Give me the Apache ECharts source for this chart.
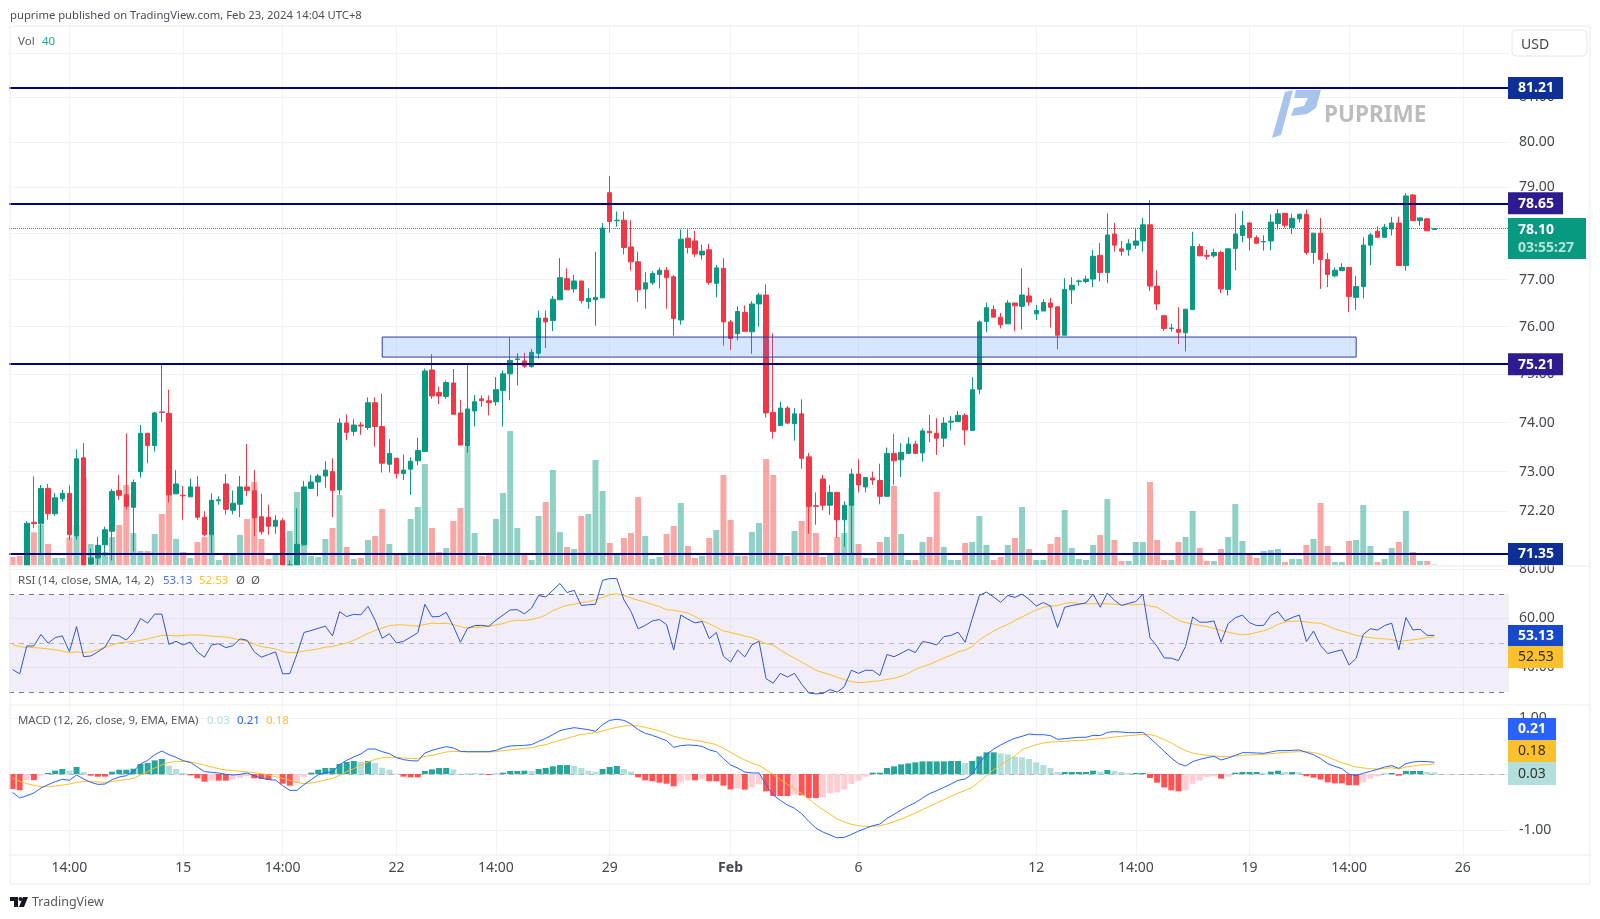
<!DOCTYPE html>
<html>
<head>
<meta charset="utf-8">
<style>html,body{margin:0;padding:0;background:#fff}#main{width:1600px;height:919px}</style>
<script src="https://cdn.jsdelivr.net/npm/echarts@6/dist/echarts.min.js"></script>
</head>
<body>
<div id="main"></div>
<script>
// four hour bars
const openPx = [70.98,70.92,
70.90,71.98,71.95,72.66,72.15,72.45,72.56,71.71,73.28,71.15,
71.27,71.53,71.80,72.62,72.53,72.28,73.00,73.78,73.53,74.22,
74.19,72.55,72.52,72.49,72.69,72.08,71.73,72.41,72.75,72.22,
72.34,72.69,72.61,72.09,72.08,71.90,72.01,71.05,71.10,71.53,
72.66,72.79,72.91,73.00,72.63,73.99,73.82,73.95,73.90,74.41,
73.92,73.15,73.27,72.96,73.05,73.22,73.41,75.09,74.62,74.54,
74.82,74.20,73.52,74.24,74.49,74.45,74.43,74.66,75.01,75.31,
75.28,75.16,75.44,76.18,76.13,76.57,77.02,76.80,76.97,76.53,
76.57,76.61,78.88,78.27,78.28,77.70,77.38,76.80,76.93,77.11,
77.20,77.06,76.14,77.89,77.83,77.53,77.64,76.92,77.24,76.10,
75.85,76.30,75.89,76.48,76.67,74.21,73.94,74.30,73.98,74.18,
73.30,72.31,72.85,72.32,72.58,72.03,72.32,72.95,72.69,72.87,
72.82,72.50,73.37,73.24,73.37,73.56,73.38,73.82,73.78,73.68,
74.01,74.02,74.15,73.84,74.69,76.11,76.36,76.20,76.06,76.50,
76.43,76.65,76.27,76.33,76.50,76.42,75.82,76.78,76.96,76.96,
77.01,77.52,77.15,77.98,77.66,77.64,77.74,77.83,78.18,76.86,
76.23,75.96,75.94,75.87,76.36,77.71,77.52,77.51,77.58,76.79,
77.67,77.95,78.22,77.90,77.81,77.83,78.21,78.43,78.12,78.31,
78.41,77.58,78.00,77.43,77.08,77.19,77.26,76.62,76.85,77.74,
78.04,77.91,78.09,78.22,77.30,78.83,78.27,78.31,78.08];
const closePx = [70.92,70.87,
71.96,71.95,72.66,72.15,72.47,72.56,71.73,73.26,70.95,71.27,
71.52,71.83,72.60,72.52,72.30,72.78,73.78,73.53,74.20,74.21,
72.53,72.75,72.51,72.69,72.08,71.73,72.42,72.43,72.24,72.36,
72.69,72.62,72.07,71.79,71.90,72.02,71.05,71.10,71.54,72.69,
72.79,72.91,73.03,72.62,73.99,73.80,73.95,73.93,74.41,73.92,
73.17,73.37,72.96,73.03,73.21,73.43,75.07,74.55,74.55,74.83,
74.17,73.54,74.28,74.43,74.45,74.41,74.68,75.01,75.29,75.32,
75.17,75.46,76.18,76.10,76.58,77.04,76.78,76.97,76.55,76.60,
76.62,78.11,78.25,78.28,77.69,77.38,76.78,76.93,77.13,77.20,
77.04,76.17,77.87,77.69,77.55,77.61,76.94,77.25,76.10,75.75,
76.32,75.90,76.48,76.67,74.20,73.82,74.30,73.99,74.18,73.27,
72.30,72.30,72.32,72.58,72.03,72.32,72.95,72.73,72.88,72.83,
72.50,73.37,73.22,73.39,73.56,73.37,73.83,73.79,73.68,73.99,
74.03,74.15,73.85,74.68,76.10,76.40,76.20,76.04,76.50,76.44,
76.67,76.52,76.34,76.51,76.41,75.82,76.79,76.88,76.97,77.01,
77.50,77.15,77.96,77.74,77.61,77.77,77.83,78.18,76.86,76.48,
75.96,75.97,75.88,76.37,77.71,77.51,77.50,77.58,76.80,77.66,
77.98,78.16,77.90,77.78,77.82,78.24,78.42,78.17,78.32,78.41,
77.58,78.00,77.43,77.11,77.20,77.26,76.64,76.85,77.74,77.96,
77.91,78.13,78.22,77.30,78.81,78.27,78.33,78.05,78.10];
const highPx = [71.02,70.95,
72.00,72.90,72.73,72.75,72.57,72.63,72.72,73.45,73.58,71.46,
71.69,71.89,72.65,72.93,73.78,72.84,73.95,73.79,74.22,75.23,
74.68,73.03,72.71,72.86,72.91,72.20,72.56,72.50,72.95,72.62,
72.91,73.56,73.03,72.55,72.33,72.12,72.06,71.22,72.26,72.81,
72.93,72.95,73.21,73.27,74.09,74.17,74.07,74.01,74.52,74.52,
74.60,73.66,73.28,73.35,73.29,73.69,75.12,75.42,74.74,74.87,
75.11,74.47,75.21,74.57,74.56,74.56,74.94,75.08,75.78,75.44,
75.45,75.53,76.34,76.34,76.65,77.46,77.24,77.10,76.97,76.81,
77.60,78.22,79.25,78.47,78.47,78.28,77.60,77.16,77.18,77.26,
77.27,77.10,78.08,78.08,78.05,77.75,77.77,77.31,77.46,76.14,
76.43,76.45,76.54,76.72,76.90,75.86,74.43,74.34,74.30,74.48,
73.38,72.58,72.93,72.73,72.58,72.40,73.06,73.25,72.89,73.00,
73.16,73.49,73.77,73.58,73.70,73.63,73.88,74.16,74.09,74.11,
74.14,74.24,74.19,74.94,76.13,76.51,76.45,76.29,76.56,76.50,
77.24,76.83,76.46,76.58,76.61,76.42,77.03,77.05,77.00,77.08,
77.64,77.79,78.43,78.22,77.83,77.87,78.11,78.33,78.72,77.20,
76.25,76.06,76.41,76.37,78.03,77.77,77.64,77.66,77.62,77.67,
78.42,78.48,78.24,77.95,77.95,78.41,78.52,78.44,78.42,78.42,
78.51,78.00,78.33,77.57,77.26,77.35,77.26,77.08,77.91,78.00,
78.14,78.20,78.35,78.36,78.87,78.85,78.34,78.33,78.11];
const lowPx = [70.88,70.80,
70.85,71.86,71.36,72.03,72.11,72.39,71.63,71.63,70.90,71.00,
71.00,71.31,71.22,72.43,72.24,71.40,72.88,73.17,73.41,74.01,
72.38,72.55,72.03,72.49,72.03,71.70,71.36,72.33,72.13,72.14,
72.08,72.50,71.70,71.73,71.73,71.75,71.00,71.00,71.05,71.52,
72.65,72.50,72.67,72.08,72.53,73.64,73.73,73.75,73.85,73.51,
72.98,72.98,72.86,72.83,72.53,73.13,73.41,74.49,74.38,74.49,
74.16,73.54,73.38,73.92,74.33,74.15,74.35,73.92,74.46,74.77,
75.13,75.14,75.33,75.55,75.91,76.57,76.78,76.72,76.49,76.38,
76.02,76.61,78.01,78.14,77.54,77.19,76.52,76.38,76.89,76.81,
76.38,75.81,76.04,77.56,77.48,77.43,76.89,76.62,75.60,75.51,
75.71,75.90,75.43,76.00,74.10,73.67,73.93,73.97,73.63,73.06,
71.75,71.93,72.22,72.12,71.67,71.49,71.35,72.58,72.58,72.73,
72.34,72.50,72.73,72.89,73.37,73.37,73.20,73.60,73.34,73.50,
73.84,74.02,73.54,73.84,74.59,75.88,76.20,75.96,76.06,75.90,
75.94,76.44,76.14,76.33,75.98,75.52,75.82,76.48,76.87,76.92,
76.84,76.96,76.92,77.60,77.51,77.51,77.66,77.60,76.75,76.35,
75.91,75.89,75.63,75.48,76.36,77.50,77.43,77.47,76.71,76.66,
77.20,77.80,77.63,77.78,77.62,77.63,78.08,78.12,77.98,78.23,
77.53,77.34,76.80,76.84,77.05,77.19,76.31,76.35,76.60,77.31,
77.91,77.91,77.95,77.30,77.19,78.27,78.16,78.05,78.08];
const volume = [800,900,
2670,3270,4000,2100,700,700,2770,4000,8730,2100,
1200,1300,2800,4000,8000,3200,1400,1400,3100,5100,
7700,2600,1300,700,2300,2800,3000,500,1000,1000,
3000,4600,8300,2600,600,1000,2800,3400,7300,2800,
900,800,2600,3700,7000,1800,600,700,2500,2900,
5600,2100,1000,1000,4600,5800,10100,3700,1300,1700,
4400,5700,11800,3200,900,1000,4600,7200,13400,3700,
1000,500,4900,6300,9500,3300,1800,1600,4900,5100,
10500,7400,2200,1000,2700,3200,6800,2900,600,800,
3100,3900,6200,1900,700,900,2700,3500,9000,4500,
900,900,3300,4200,10600,9000,1000,900,3400,4400,
10200,3200,800,1000,2800,3200,7700,2100,700,700,
2300,2800,7900,3100,500,500,2300,2800,7300,1800,
500,500,2200,2300,4900,2000,500,800,2000,2700,
5800,1600,500,500,2100,2800,5500,1700,600,500,
2000,3000,6600,2500,400,400,2300,2300,8300,2500,
500,500,2300,2800,5400,1700,400,400,1600,2800,
6100,2400,1000,700,1400,1500,1600,300,600,600,
2000,2600,6200,1900,300,300,2400,2500,6000,1900,
300,600,1700,2300,5400,1300,400,400,40];
const rsi = [39.2,37.4,
48.8,48.8,53.5,49.9,52.2,52.9,46.5,56.7,44.4,44.7,
46.4,48.3,53.3,52.9,51.2,54.3,60,58.1,61.8,61.8,
49.4,50.7,49.2,50.4,46.4,44.2,49.2,49.7,48.1,48.9,
51.7,51.1,46.4,44.2,45.3,46.4,37.4,37.5,45.4,54.3,
55.1,56,56.9,52.9,62.8,60.8,61.7,61.5,65,59.3,
51.9,53.8,50,50.7,52.4,54.2,65.8,60.7,60.8,62.5,
56.9,50.3,56,57.1,57.2,56.8,59.3,61.4,63.5,63.6,
61.9,64.2,69.4,68.8,71.5,74.3,70.6,71.5,65.3,65.6,
65.8,75.6,76.3,76.3,67.6,62.8,55.8,57.2,59,59.6,
57.5,47.1,61.4,59.7,58.2,58.8,51.8,54.3,44.6,42.2,
47.1,44.3,49.2,50.7,35.4,33.6,37.6,36.1,37.6,33.2,
29.6,29.2,29.4,31,29.9,32.2,38.9,37.6,38.9,38.8,
36.7,45.3,44.4,45.8,47.4,46.1,50.6,50.1,49.2,52.6,
53.1,54.4,50.3,60,69.4,70.8,68.8,66.6,69.4,68.6,
70,67.8,65.1,66.5,65.1,56.3,64.6,65.3,65.8,66.4,
70,64.6,70.4,67.4,65.3,66.2,66.9,70,52.1,48.6,
43.9,43.8,42.8,48.6,60.6,58.5,58.5,59,50.3,57.9,
60.3,61.4,58.3,57.1,57.2,61.3,62.8,59,60.4,61.4,
50.6,54.9,48.9,45.7,46.5,47.2,41,43.8,53.5,55.8,
55.3,57.1,58.1,47.2,60.4,55.3,55.6,53.1,53.13];
const rsiMa = [49.3,48.5,
48.2,48.1,47.9,47.6,47.2,46.7,46,46.4,46.1,46.4,
47.2,48.3,49.2,50.1,50.3,50.6,51.1,51.7,52.4,53.1,
53.1,52.8,53.1,53.3,53.3,53.1,52.8,52.6,52.4,51.9,
51.3,50.8,49.6,48.5,48.1,47.6,46.5,46,46.1,46.8,
47.1,47.6,48.3,48.6,49.3,50,51.1,52.4,53.9,55.1,
56.1,57.1,57.4,57.4,57.1,56.9,57.6,58.1,57.9,58.1,
57.5,56.7,56.1,56.4,56.5,56.8,57.4,57.9,58.9,59.3,
59.2,59.6,60.3,61.4,63.2,64.4,65.4,65.8,66.5,66.9,
67.6,68.6,69.7,70.1,69.4,68.3,67.5,66.7,65.7,64.9,
63.5,63.4,62.8,62.2,60.8,59.2,57.8,56.4,54.9,54.3,
53.6,52.8,52.2,51,49.7,49.2,47.1,45.4,43.8,42.2,
40.6,38.9,37.9,37.1,36,35.1,34.2,33.8,34,34.3,
34.6,35.1,35.6,36.5,37.6,39.2,40.3,41.3,42.6,43.9,
45,46.4,47.1,48.6,51.3,53.1,54.9,56.3,57.6,59.2,
60.6,62.1,63.5,64.6,65,65.3,66.2,66.5,66.1,66,
66,66,66,65.8,65.6,65.6,65.7,65.8,65.1,64.6,
62.8,61,59.3,58.3,57.8,57.2,56.7,56,55.1,54.4,
53.8,53.3,53.6,54.3,55,56.1,57.6,58.6,58.9,59,
58.6,58.2,58.1,56.9,55.8,54.9,54,53.1,52.6,52.2,
51.8,51.7,51.4,50.6,51,51.3,51.7,52.2,52.53];
const macd = [-0.327,-0.429,
-0.387,-0.339,-0.25,-0.19,-0.137,-0.095,-0.113,-0.018,-0.089,-0.149,
-0.185,-0.179,-0.101,-0.054,-0.03,0.048,0.179,0.244,0.345,0.411,
0.345,0.298,0.238,0.208,0.125,0.042,0.03,0.018,-0.006,-0.018,
-0.006,0.018,-0.03,-0.071,-0.101,-0.107,-0.208,-0.292,-0.292,-0.19,
-0.101,-0.012,0.024,0.036,0.167,0.244,0.304,0.357,0.446,0.446,
0.399,0.363,0.292,0.256,0.238,0.232,0.375,0.423,0.458,0.488,
0.464,0.405,0.399,0.399,0.399,0.399,0.423,0.47,0.5,0.506,
0.512,0.524,0.583,0.637,0.702,0.774,0.804,0.827,0.81,0.792,
0.762,0.881,0.958,0.976,0.958,0.893,0.792,0.726,0.69,0.643,
0.595,0.476,0.506,0.518,0.512,0.494,0.429,0.399,0.274,0.161,
0.107,0.036,0.018,0.018,-0.19,-0.375,-0.47,-0.554,-0.613,-0.708,
-0.845,-0.964,-1.036,-1.09,-1.14,-1.13,-1.08,-1.02,-0.97,-0.923,
-0.893,-0.792,-0.72,-0.643,-0.571,-0.512,-0.429,-0.351,-0.298,-0.238,
-0.179,-0.113,-0.089,0,0.196,0.345,0.446,0.518,0.583,0.637,
0.673,0.714,0.702,0.702,0.685,0.619,0.631,0.643,0.655,0.655,
0.69,0.685,0.744,0.756,0.75,0.738,0.738,0.744,0.643,0.524,
0.405,0.286,0.185,0.143,0.22,0.262,0.292,0.315,0.25,0.286,
0.333,0.381,0.381,0.375,0.369,0.393,0.417,0.417,0.423,0.429,
0.387,0.345,0.274,0.185,0.137,0.095,-0.006,-0.03,0.012,0.048,
0.083,0.125,0.149,0.101,0.185,0.214,0.226,0.22,0.21];
const signal = [-0.071,-0.131,
-0.173,-0.202,-0.226,-0.226,-0.214,-0.196,-0.179,-0.149,-0.137,-0.131,
-0.143,-0.149,-0.137,-0.113,-0.101,-0.077,-0.018,0.042,0.107,0.161,
0.208,0.22,0.226,0.214,0.19,0.155,0.125,0.095,0.071,0.06,
0.048,0.036,0.024,0.006,-0.018,-0.048,-0.077,-0.113,-0.149,-0.173,
-0.161,-0.137,-0.107,-0.077,-0.024,0.042,0.095,0.161,0.214,0.262,
0.292,0.298,0.298,0.286,0.28,0.274,0.315,0.333,0.363,0.393,
0.405,0.399,0.393,0.393,0.393,0.393,0.399,0.417,0.429,0.44,
0.458,0.47,0.5,0.524,0.565,0.601,0.637,0.673,0.708,0.72,
0.738,0.768,0.804,0.833,0.857,0.869,0.857,0.833,0.804,0.768,
0.726,0.673,0.643,0.619,0.601,0.577,0.554,0.524,0.458,0.387,
0.315,0.25,0.196,0.149,0.077,-0.006,-0.101,-0.185,-0.268,-0.351,
-0.446,-0.548,-0.637,-0.72,-0.804,-0.857,-0.899,-0.923,-0.935,-0.935,
-0.923,-0.893,-0.851,-0.804,-0.75,-0.696,-0.637,-0.577,-0.518,-0.458,
-0.399,-0.345,-0.292,-0.238,-0.137,-0.03,0.077,0.161,0.244,0.327,
0.435,0.482,0.524,0.554,0.571,0.577,0.583,0.595,0.601,0.607,
0.619,0.631,0.643,0.661,0.673,0.685,0.696,0.708,0.702,0.673,
0.613,0.554,0.482,0.417,0.375,0.351,0.333,0.321,0.31,0.31,
0.321,0.333,0.339,0.345,0.351,0.363,0.375,0.387,0.393,0.399,
0.399,0.381,0.351,0.304,0.25,0.202,0.161,0.125,0.107,0.095,
0.089,0.101,0.113,0.089,0.125,0.143,0.161,0.167,0.18];
const hist = [-0.27,-0.29,
-0.11,-0.11,-0.03,0.02,0.06,0.09,0.06,0.125,0.036,-0.03,
-0.048,-0.048,0.04,0.077,0.077,0.095,0.18,0.196,0.244,0.268,
0.149,0.09,0.018,-0.024,-0.077,-0.137,-0.119,-0.119,-0.119,-0.095,
-0.07,-0.04,-0.077,-0.09,-0.107,-0.03,-0.173,-0.208,-0.16,-0.06,
0.024,0.077,0.107,0.107,0.18,0.214,0.232,0.214,0.232,0.196,
0.113,0.077,0.006,-0.048,-0.06,-0.06,0.054,0.083,0.107,0.107,
0.083,0.006,0.006,0.006,0.006,-0.018,0.006,0.024,0.054,0.054,
0.06,0.054,0.09,0.107,0.137,0.16,0.16,0.143,0.107,0.06,
0.042,0.09,0.125,0.143,0.09,0.042,-0.06,-0.113,-0.131,-0.155,
-0.173,-0.22,-0.149,-0.113,-0.113,-0.095,-0.131,-0.131,-0.208,-0.274,
-0.262,-0.28,-0.238,-0.185,-0.31,-0.393,-0.393,-0.393,-0.369,-0.381,
-0.43,-0.43,-0.417,-0.345,-0.327,-0.28,-0.179,-0.119,-0.048,0.024,
0.024,0.107,0.137,0.173,0.19,0.208,0.226,0.226,0.226,0.226,
0.232,0.232,0.196,0.232,0.315,0.387,0.387,0.369,0.351,0.31,
0.298,0.268,0.208,0.16,0.107,0.036,0.036,0.036,0.036,0.036,
0.06,0.042,0.071,0.054,0.036,0.018,0.018,0.018,-0.07,-0.155,
-0.24,-0.292,-0.31,-0.292,-0.173,-0.119,-0.054,-0.042,-0.083,-0.048,
0.024,0.036,0.036,0.036,0.018,0.042,0.06,0.036,0.036,0.03,
-0.042,-0.065,-0.1,-0.149,-0.167,-0.167,-0.202,-0.202,-0.149,-0.083,
-0.042,0.006,0.018,-0.03,0.054,0.054,0.054,0.036,0.03];

const timeLabels = {8:'14:00',24:'15',38:'14:00',54:'22',68:'14:00',84:'29',101:'Feb',119:'6',144:'12',158:'14:00',174:'19',188:'14:00',204:'26'};
const barCount = 211;
const categories = Array.from({length: barCount}, (_, i) => timeLabels[i] || '');
const priceGrid = [82, 72.2];
const priceTicks = [81, 80, 79, 78, 77, 76, 75, 74, 73];
const levels = [81.21, 78.65, 75.21, 71.35];
const lastPrice = 78.10;
const zoneBounds = [75.78, 75.36];
const zoneBars = [52, 189];
const priceMin = 71.13, priceMax = 82.62;

const UP = '#089981', DOWN = '#F23645', GRID = '#f0f3fa', NAVY = '#000080', TXT = '#44474f';
const FONT = '"Noto Sans", sans-serif';

// candlesticks are not clipped by echarts, so hold them at the pane floor
const floor = v => Math.max(v, priceMin);
const candles = openPx.map((o, i) => highPx[i] < priceMin ? '-' : [floor(o), floor(closePx[i]), floor(lowPx[i]), highPx[i]]);
const histColor = (v, i) => {
    const prev = i > 0 ? hist[i - 1] : 0;
    if (v >= 0) return v >= prev ? '#26a69a' : '#b2dfdb';
    return v <= prev ? '#ff5252' : '#ffcdd2';
};

function xAxisFor(gridIndex, showLabel) {
    return {
        type: 'category', gridIndex: gridIndex, data: categories, boundaryGap: true,
        axisTick: {show: false},
        axisLine: {show: showLabel, lineStyle: {color: '#e0e3eb'}},
        splitLine: {show: true, alignWithLabel: true, interval: i => !!timeLabels[i], lineStyle: {color: GRID, width: 1}},
        axisLabel: {
            show: showLabel, interval: i => !!timeLabels[i], color: TXT, fontSize: 14, fontFamily: FONT, margin: 6,
            formatter: v => v === 'Feb' ? '{b|Feb}' : v,
            rich: {b: {fontWeight: 'bold', fontSize: 14, color: TXT, fontFamily: FONT}}
        }
    };
}

// gridline with a right hand tick label, drawn under the marks
function gridLines(values, labelled, digits) {
    return values.map(v => ({
        yAxis: v, name: v.toFixed(digits || 2),
        lineStyle: {color: GRID, width: 1, type: 'solid'},
        label: labelled ? {show: true} : {show: false}
    }));
}
const tickLabel = {position: 'end', distance: 10, formatter: '{b}', color: TXT, fontSize: 14, fontFamily: FONT, padding: [2, 0, 0, 0]};

function hiddenLine(xi, yi, data) {
    return {
        type: 'line', xAxisIndex: xi, yAxisIndex: yi, data: [], silent: true, z: 0,
        markLine: {silent: true, symbol: 'none', z: 0, animation: false, label: tickLabel, data: data}
    };
}

const option = {
    animation: false,
    backgroundColor: '#ffffff',
    tooltip: {show: false},
    grid: [
        {left: 9, width: 1500, top: 26, height: 539},
        {left: 9, width: 1500, top: 566, height: 139},
        {left: 9, width: 1500, top: 705, height: 150}
    ],
    xAxis: [xAxisFor(0, false), xAxisFor(1, false), xAxisFor(2, true)],
    yAxis: [
        {type: 'log', logBase: Math.E, gridIndex: 0, min: priceMin, max: priceMax, show: false, splitLine: {show: false}},
        {type: 'value', gridIndex: 0, min: 0, max: 53900, show: false, splitLine: {show: false}},
        {type: 'value', gridIndex: 1, min: 24.69, max: 81.43, show: false, splitLine: {show: false}},
        {type: 'value', gridIndex: 2, min: -1.446, max: 1.232, show: false, splitLine: {show: false}}
    ],
    series: [
        hiddenLine(0, 0, gridLines(priceGrid.slice(0, 1), false).concat(gridLines(priceTicks, true), gridLines(priceGrid.slice(1), true))),
        {
            type: 'bar', xAxisIndex: 0, yAxisIndex: 1, barWidth: 6, silent: true, z: 1,
            data: volume.map((v, i) => ({value: v, itemStyle: {color: closePx[i] >= openPx[i] ? 'rgba(8,153,129,0.45)' : 'rgba(240,60,55,0.45)'}}))
        },
        {
            type: 'candlestick', xAxisIndex: 0, yAxisIndex: 0, barWidth: 5, silent: true, z: 2,
            data: candles,
            itemStyle: {color: UP, color0: DOWN, borderColor: UP, borderColor0: DOWN, borderWidth: 1},
            markArea: {
                silent: true, z: 3,
                itemStyle: {color: 'rgba(60,130,246,0.2)', borderColor: '#2b3da0', borderWidth: 1},
                data: [[{coord: [zoneBars[0], zoneBounds[0]]}, {coord: [zoneBars[1], zoneBounds[1]]}]]
            },
            markLine: {
                silent: true, symbol: 'none', z: 5, animation: false, label: {show: false},
                data: levels.map(v => ({yAxis: v, lineStyle: {color: NAVY, width: 2, type: 'solid'}}))
                    .concat([{yAxis: lastPrice, lineStyle: {color: UP, width: 1, type: 'dotted'}}])
            }
        },
        hiddenLine(1, 2, gridLines([80, 60, 40], true)),
        {
            type: 'line', xAxisIndex: 1, yAxisIndex: 2, data: [], silent: true, z: 1,
            markArea: {silent: true, z: 1, itemStyle: {color: 'rgba(126,87,194,0.1)'}, data: [[{yAxis: 70}, {yAxis: 30}]]},
            markLine: {
                silent: true, symbol: 'none', z: 2, animation: false, label: {show: false},
                data: [
                    {yAxis: 70, lineStyle: {color: '#787b86', width: 1, type: [5, 5]}},
                    {yAxis: 50, lineStyle: {color: '#b2b5be', width: 1, type: [5, 5]}},
                    {yAxis: 30, lineStyle: {color: '#787b86', width: 1, type: [5, 5]}}
                ]
            }
        },
        {
            type: 'line', xAxisIndex: 1, yAxisIndex: 2, showSymbol: false, silent: true, z: 2, connectNulls: false,
            lineStyle: {width: 0},
            areaStyle: {origin: 70, color: 'rgba(8,153,80,0.09)'},
            data: rsi.map(v => v > 70 ? v : null)
        },
        {type: 'line', xAxisIndex: 1, yAxisIndex: 2, data: rsiMa, showSymbol: false, silent: true, z: 3, lineStyle: {color: '#fbc02d', width: 1}},
        {type: 'line', xAxisIndex: 1, yAxisIndex: 2, data: rsi, showSymbol: false, silent: true, z: 4, lineStyle: {color: '#2f55d4', width: 1}},
        hiddenLine(2, 3, gridLines([1, -1], true)),
        {
            type: 'bar', xAxisIndex: 2, yAxisIndex: 3, barWidth: 6, silent: true, z: 2,
            data: hist.map((v, i) => ({value: v, itemStyle: {color: histColor(v, i)}})),
            markLine: {
                silent: true, symbol: 'none', z: 1, animation: false, label: {show: false},
                data: [{yAxis: 0, lineStyle: {color: '#b2b5be', width: 1, type: [5, 5]}}]
            }
        },
        {type: 'line', xAxisIndex: 2, yAxisIndex: 3, data: signal, showSymbol: false, silent: true, z: 3, lineStyle: {color: '#fbc02d', width: 1}},
        {type: 'line', xAxisIndex: 2, yAxisIndex: 3, data: macd, showSymbol: false, silent: true, z: 4, lineStyle: {color: '#2962ff', width: 1}}
    ]
};

const chart = echarts.init(document.getElementById('main'), null, {renderer: 'canvas'});
chart.setOption(option);

function label(x, y, text, color, size, weight, align) {
    return {type: 'text', x: x, y: y, silent: true, z: 20, style: {
        text: text, fill: color, fontSize: size || 12, fontFamily: FONT,
        fontWeight: weight || 'normal', align: align || 'left', verticalAlign: 'middle'
    }};
}
function tag(y, w, h, bg, fg, text, weight) {
    return [
        {type: 'rect', silent: true, z: 30, shape: {x: 1508, y: y - h / 2, width: w, height: h}, style: {fill: bg}},
        {type: 'text', silent: true, z: 31, x: 1508 + 10, y: y + 0.5, style: {text: text, fill: fg, fontSize: 14, fontWeight: weight || 'bold', fontFamily: FONT, align: 'left', verticalAlign: 'middle'}}
    ];
}
function hline(y, x1, x2, color) {
    return {type: 'line', silent: true, z: 10, shape: {x1: x1, y1: y, x2: x2, y2: y}, style: {stroke: color, lineWidth: 1}};
}

const levelColors = ['#0d2f96', '#2d1b8f', '#2d1b8f', '#0d2f96'];
const levelY = levels.map(v => chart.convertToPixel({yAxisIndex: 0}, v));
let graphics = [
    // frame and pane separators
    {type: 'rect', silent: true, z: 10, shape: {x: 10, y: 26, width: 1580, height: 858}, style: {fill: 'none', stroke: '#e8eaf2', lineWidth: 1}},
    hline(566, 10, 1590, '#e8eaf2'),
    hline(705, 10, 1590, '#e8eaf2'),
    hline(855, 10, 1590, '#e8eaf2'),
    // header and legends
    label(10, 15.5, 'puprime published on TradingView.com, Feb 23, 2024 14:04 UTC+8', '#4a4d55', 11.27),
    label(18, 41.5, 'Vol', '#55585f', 11.5),
    label(42, 41.5, '40', '#22ab94', 11.5),
    label(18, 581, 'RSI (14, close, SMA, 14, 2)', '#55585f', 11.5),
    label(163, 581, '53.13', '#4f72d8', 11.5),
    label(199, 581, '52.53', '#fbc02d', 11.5),
    label(236, 581, 'Ø', '#55585f', 11.5),
    label(251, 581, 'Ø', '#55585f', 11.5),
    label(18, 721, 'MACD (12, 26, close, 9, EMA, EMA)', '#55585f', 11.4),
    label(207, 721, '0.03', '#b2dfdb', 11.5),
    label(237, 721, '0.21', '#2962ff', 11.5),
    label(266, 721, '0.18', '#fbc02d', 11.5),
    // currency box
    {type: 'rect', silent: true, z: 20, shape: {x: 1512, y: 30, width: 75, height: 26, r: 4}, style: {fill: '#fff', stroke: '#e6e8ef', lineWidth: 1}},
    label(1521, 45, 'USD', '#44474f', 14),
    // watermark
    {type: 'polygon', silent: true, z: 6, shape: {points: [[1272, 138], [1285, 92], [1293, 90], [1281, 135]]}, style: {fill: '#a9c4ec'}},
    {type: 'polygon', silent: true, z: 6, shape: {points: [[1296, 90], [1321, 90], [1316, 108], [1307, 114], [1291, 116], [1294, 108], [1304, 106], [1308, 98], [1294, 98]]}, style: {fill: '#a9c4ec'}},
    label(1324, 116, 'PUPRIME', '#bdbdbd', 22.5, 'bold'),
    // footer logo
    {type: 'rect', silent: true, z: 20, shape: {x: 10, y: 897, width: 8, height: 4}, style: {fill: '#131722'}},
    {type: 'rect', silent: true, z: 20, shape: {x: 14, y: 897, width: 4, height: 10}, style: {fill: '#131722'}},
    {type: 'circle', silent: true, z: 20, shape: {cx: 20.5, cy: 899, r: 2}, style: {fill: '#131722'}},
    {type: 'polygon', silent: true, z: 20, shape: {points: [[23, 897], [28, 897], [24, 907], [19, 907]]}, style: {fill: '#131722'}},
    label(32, 902.5, 'TradingView', '#55585f', 12.5)
];
levels.forEach((v, i) => { graphics = graphics.concat(tag(levelY[i], 55, 22, levelColors[i], '#ffffff', v.toFixed(2))); });
graphics = graphics.concat(
    [{type: 'rect', silent: true, z: 30, shape: {x: 1508, y: 218, width: 78, height: 41}, style: {fill: UP}},
     {type: 'text', silent: true, z: 31, x: 1518, y: 230, style: {text: lastPrice.toFixed(2), fill: '#fff', fontSize: 14, fontWeight: 'bold', fontFamily: FONT, verticalAlign: 'middle'}},
     {type: 'text', silent: true, z: 31, x: 1518, y: 248.5, style: {text: '03:55:27', fill: '#b5e3da', fontSize: 14, fontWeight: 'bold', fontFamily: FONT, verticalAlign: 'middle'}}],
    tag(635.5, 55, 21, '#1848cc', '#ffffff', rsi[rsi.length - 1].toFixed(2)),
    tag(657, 55, 22, '#fbc02d', '#3a2d00', rsiMa[rsiMa.length - 1].toFixed(2), 'normal'),
    tag(729, 48, 22, '#2962ff', '#ffffff', '0.21'),
    tag(751, 48, 22, '#fbc02d', '#3a2d00', '0.18', 'normal'),
    tag(773.5, 48, 23, '#b2dfdb', '#333333', '0.03', 'normal')
);
chart.setOption({graphic: graphics});
</script>
</body>
</html>
